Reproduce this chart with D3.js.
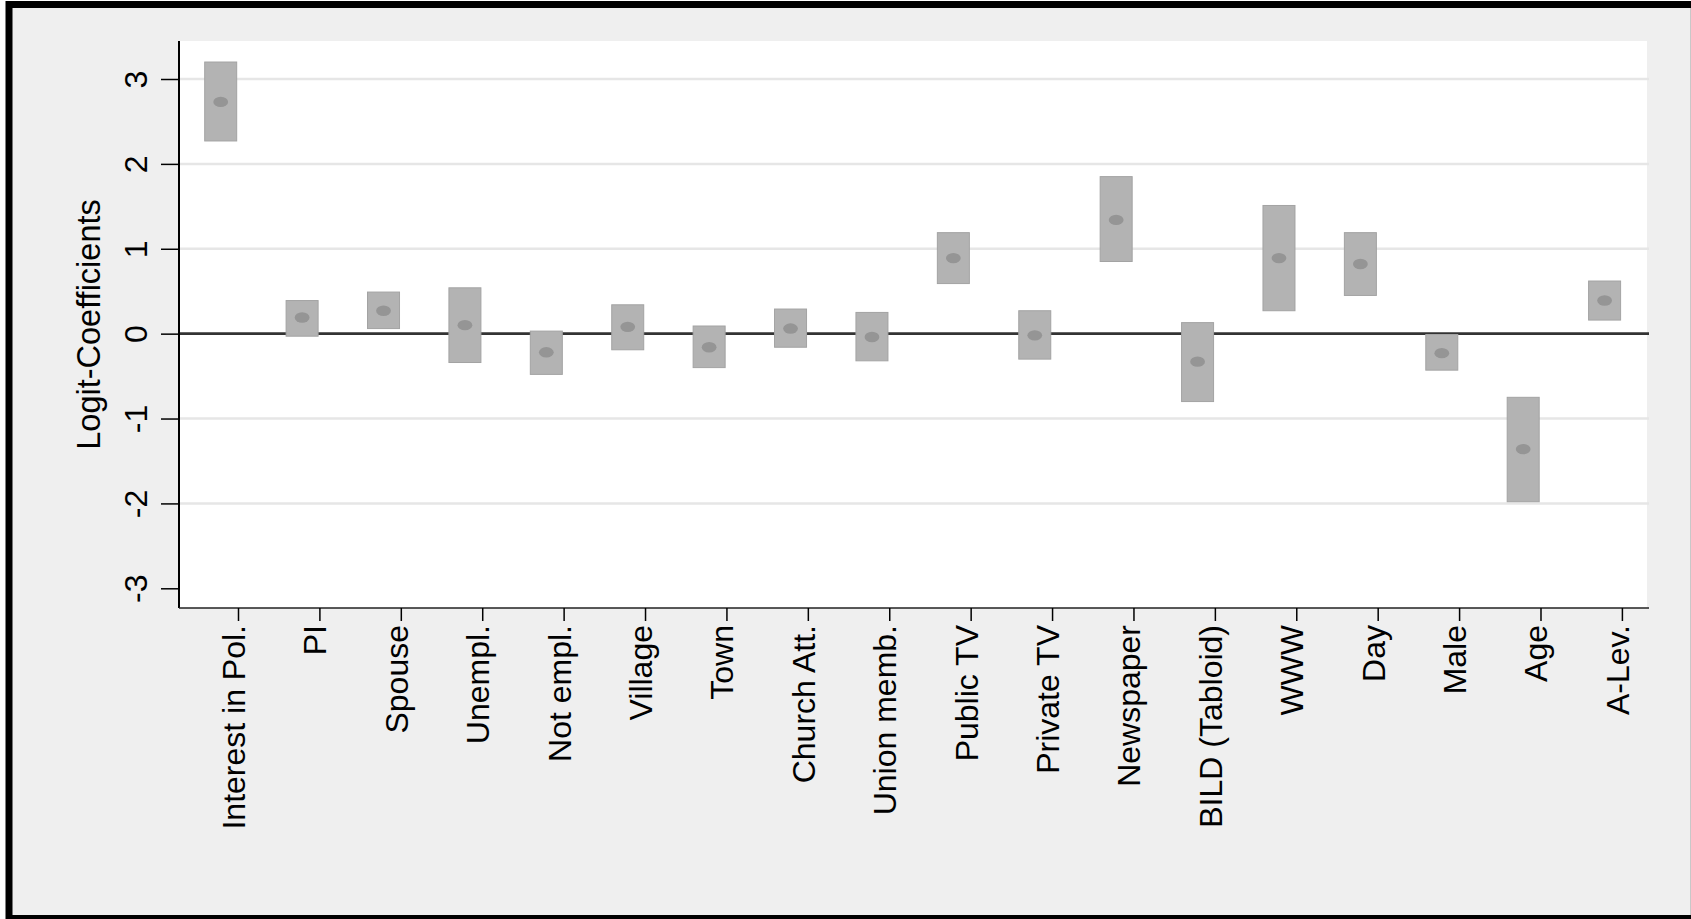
<!DOCTYPE html>
<html>
<head>
<meta charset="utf-8">
<script src="https://cdn.jsdelivr.net/npm/d3@7"></script>
<style>
  body { margin: 0; background: #ffffff; }
  text { font-family: "Liberation Sans", Arial, sans-serif; fill: #000; }
</style>
</head>
<body>
<div id="wrapper"></div>
<script>
// logit coefficients with confidence bands
const categories = [
  "Interest in Pol.", "PI", "Spouse", "Unempl.", "Not empl.", "Village",
  "Town", "Church Att.", "Union memb.", "Public TV", "Private TV",
  "Newspaper", "BILD (Tabloid)", "WWW", "Day", "Male", "Age", "A-Lev."
]
const coefs = [2.73, 0.19, 0.27, 0.10, -0.22, 0.08, -0.16, 0.06, -0.04, 0.89, -0.02, 1.34, -0.33, 0.89, 0.82, -0.23, -1.36, 0.39]
const lowers = [2.27, -0.03, 0.06, -0.34, -0.48, -0.19, -0.40, -0.16, -0.32, 0.59, -0.30, 0.85, -0.80, 0.27, 0.45, -0.43, -1.98, 0.16]
const uppers = [3.20, 0.39, 0.49, 0.54, 0.03, 0.34, 0.09, 0.29, 0.25, 1.19, 0.27, 1.85, 0.13, 1.51, 1.19, -0.01, -0.75, 0.62]
const yTicks = [-3, -2, -1, 0, 1, 2, 3]
const gridValues = [-2, -1, 1, 2, 3]

function drawChart() {
  const dataset = categories.map((name, i) => ({
    name, coef: coefs[i], lower: lowers[i], upper: uppers[i]
  }))

  const dimensions = {
    width: 1691,
    height: 919,
    plot: { left: 179, right: 1647, top: 41, bottom: 608 },
  }

  const svg = d3.select("#wrapper").append("svg")
    .attr("width", dimensions.width)
    .attr("height", dimensions.height)

  // outer frame
  svg.append("rect")
    .attr("x", 9).attr("y", 4.5)
    .attr("width", 1700).attr("height", 914)
    .attr("fill", "#efefef")
    .attr("stroke", "#000").attr("stroke-width", 7)
  svg.append("line")
    .attr("x1", 1690.5).attr("x2", 1690.5)
    .attr("y1", 8).attr("y2", 915)
    .attr("stroke", "#c8c8c8").attr("stroke-width", 1)

  const p = dimensions.plot
  svg.append("rect")
    .attr("x", p.left).attr("y", p.top)
    .attr("width", p.right - p.left).attr("height", p.bottom - p.top)
    .attr("fill", "#fff")

  // scales
  const yScale = d3.scaleLinear()
    .domain([-3, 3])
    .range([588.3, 79])
  const xScale = d3.scalePoint()
    .domain(categories)
    .range([220.7, 1604.6])
  // stata draws the category ticks a bit right of the boxes
  const xTickScale = d3.scalePoint()
    .domain(categories)
    .range([238, 1621.9])

  // grid
  svg.append("g").selectAll("line")
    .data(gridValues)
    .join("line")
      .attr("x1", p.left).attr("x2", p.right + 2)
      .attr("y1", d => yScale(d)).attr("y2", d => yScale(d))
      .attr("stroke", "#e6e6e6").attr("stroke-width", 2.5)

  svg.append("line")
    .attr("x1", p.left).attr("x2", p.right + 2)
    .attr("y1", yScale(0)).attr("y2", yScale(0))
    .attr("stroke", "#333").attr("stroke-width", 2.6)

  // boxes and points
  const boxWidth = 32
  svg.append("g").selectAll("rect")
    .data(dataset)
    .join("rect")
      .attr("x", d => xScale(d.name) - boxWidth / 2)
      .attr("width", boxWidth)
      .attr("y", d => yScale(d.upper))
      .attr("height", d => yScale(d.lower) - yScale(d.upper))
      .attr("fill", "#b3b3b3")
      .attr("stroke", "#a3a3a3").attr("stroke-width", 1)

  svg.append("g").selectAll("ellipse")
    .data(dataset)
    .join("ellipse")
      .attr("cx", d => xScale(d.name))
      .attr("cy", d => yScale(d.coef))
      .attr("rx", 7.4).attr("ry", 5.2)
      .attr("fill", "#959595")

  // y axis
  const yAxis = d3.axisLeft(yScale)
    .tickValues(yTicks)
    .tickSize(18)
    .tickFormat(d => String(d)) // plain hyphen for negatives, like the original
  const yAxisGroup = svg.append("g")
    .attr("transform", `translate(${p.left},0)`)
    .call(yAxis)
  yAxisGroup.select(".domain")
    .attr("d", `M0,${p.top}V${p.bottom}`)
    .attr("stroke", "#000").attr("stroke-width", 2)
  yAxisGroup.selectAll(".tick line").attr("stroke", "#000").attr("stroke-width", 1.5)
  yAxisGroup.selectAll(".tick text")
    .attr("x", null).attr("dy", null)
    .attr("transform", "translate(-32,0) rotate(-90)")
    .attr("text-anchor", "middle")
    .style("font-size", "32px")
    .style("font-family", "'Liberation Sans', Arial, sans-serif")

  // x axis
  const xAxis = d3.axisBottom(xTickScale)
    .tickSize(13)
    .tickSizeOuter(0)
  const xAxisGroup = svg.append("g")
    .attr("transform", `translate(0,${p.bottom})`)
    .call(xAxis)
  xAxisGroup.select(".domain")
    .attr("d", `M${p.left},0H${p.right + 2}`)
    .attr("stroke", "#222").attr("stroke-width", 1.6)
  xAxisGroup.selectAll(".tick line").attr("stroke", "#000").attr("stroke-width", 1.5)
  xAxisGroup.selectAll(".tick text")
    .attr("y", null).attr("dy", null)
    .attr("transform", "translate(6.5,17) rotate(-90)")
    .attr("text-anchor", "end")
    .style("font-size", "32px")
    .style("font-family", "'Liberation Sans', Arial, sans-serif")

  // y title
  svg.append("text")
    .attr("transform", `translate(100,${(p.top + p.bottom) / 2}) rotate(-90)`)
    .attr("text-anchor", "middle")
    .style("font-size", "32.5px")
    .text("Logit-Coefficients")
}
drawChart()
</script>
</body>
</html>
